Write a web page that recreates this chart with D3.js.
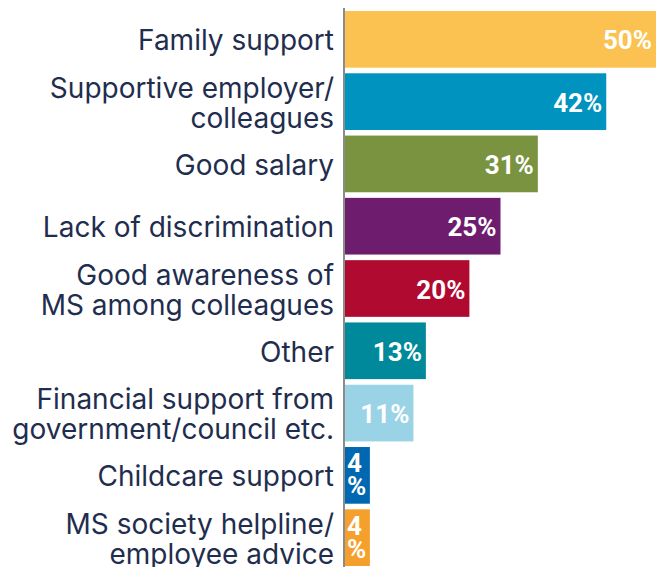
<!DOCTYPE html>
<html>
<head>
<meta charset="utf-8">
<script src="https://cdn.jsdelivr.net/npm/d3@7"></script>
<style>
  html, body { margin: 0; padding: 0; background: #ffffff; }
  svg { display: block; }
</style>
</head>
<body>
<svg id="chart" width="668" height="567"></svg>
<script>
const categories = [
  "Family support",
  "Supportive employer/\ncolleagues",
  "Good salary",
  "Lack of discrimination",
  "Good awareness of\nMS among colleagues",
  "Other",
  "Financial support from\ngovernment/council etc.",
  "Childcare support",
  "MS society helpline/\nemployee advice"
];
const values = [50, 42, 31, 25, 20, 13, 11, 4, 4];
const colors = ["#FBC251", "#0093BF", "#7A9340", "#6E1C6E", "#B00A31", "#00899A", "#9AD3E6", "#0067B1", "#F5A02C"];

const svg = d3.select("#chart");
const x = d3.scaleLinear().domain([0, 50]).range([345, 656]);
const y = d3.scaleBand().domain(categories).range([11, 566]).paddingInner(0.09).paddingOuter(0);

const data = categories.map((c, i) => ({ cat: c, value: values[i], color: colors[i] }));

// bars
svg.selectAll("rect.bar").data(data).join("rect")
  .attr("class", "bar")
  .attr("x", x(0))
  .attr("y", d => y(d.cat))
  .attr("width", d => x(d.value) - x(0))
  .attr("height", y.bandwidth())
  .attr("fill", d => d.color);

// axis line
svg.append("line")
  .attr("x1", 344).attr("x2", 344)
  .attr("y1", 8).attr("y2", 567)
  .attr("stroke", "#666").attr("stroke-width", 1.5);

// category labels
const labelFont = "Inter, 'Open Sans', sans-serif";
svg.selectAll("text.cat").data(data).join("text")
  .attr("class", "cat")
  .attr("text-anchor", "end")
  .attr("font-family", labelFont)
  .attr("font-size", 28)
  .attr("fill", "#1F2D4E")
  .each(function(d) {
    const lines = d.cat.split("\n");
    const cy = y(d.cat) + y.bandwidth() / 2;
    const t = d3.select(this);
    const first = cy + 11 - (lines.length - 1) * 15;
    lines.forEach((l, k) => {
      t.append("tspan").attr("x", 334).attr("y", first + k * 30).text(l);
    });
  });

// value labels
svg.selectAll("g.val").data(data).join("g")
  .attr("class", "val")
  .attr("font-family", "Roboto, sans-serif")
  .attr("font-weight", 700)
  .attr("font-size", 26)
  .attr("fill", "#ffffff")
  .each(function(d) {
    const g = d3.select(this);
    const label = d3.format("d")(d.value) + "%";
    const cy = y(d.cat) + y.bandwidth() / 2;
    const barW = x(d.value) - x(0);
    const t = g.append("text").attr("text-anchor", "end").attr("x", x(d.value) - 4).attr("y", cy + 10).text(label);
    const w = t.node().getComputedTextLength();
    if (w + 8 > barW) {
      t.remove();
      const parts = [label.slice(0, -1), "%"];
      parts.forEach((p, k) => {
        g.append("text").attr("text-anchor", "start")
          .attr("x", x(0) + 2).attr("y", cy - 3 + k * 23).text(p);
      });
    }
  });
</script>
</body>
</html>
